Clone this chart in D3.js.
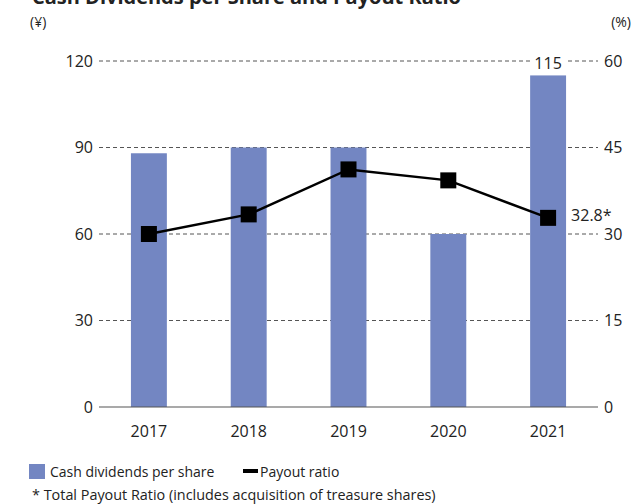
<!DOCTYPE html>
<html>
<head>
<meta charset="utf-8">
<script src="https://cdn.jsdelivr.net/npm/d3@7"></script>
<style>
  body { margin: 0; background: #fff; }
  text { font-family: "Open Sans", "Noto Sans", sans-serif; fill: #222; }
</style>
</head>
<body>
<svg id="chart" width="635" height="504"></svg>
<script>
// Data
var years = ["2017", "2018", "2019", "2020", "2021"];
var dividends = [88, 90, 90, 60, 115];        // yen
var payoutRatio = [30.0, 33.4, 41.2, 39.3, 32.8]; // %
var leftTicks = [0, 30, 60, 90, 120];
var rightTicks = [0, 15, 30, 45, 60];

var svg = d3.select("#chart");

var x0 = 99, x1 = 598, yTop = 61, yBottom = 407;

var xScale = d3.scaleBand().domain(years).range([x0, x1]).paddingInner(0.64).paddingOuter(0.32);
var yLeft = d3.scaleLinear().domain([0, 120]).range([yBottom, yTop]);
var yRight = d3.scaleLinear().domain([0, 60]).range([yBottom, yTop]);

// Title (cut off at top in the reference)
svg.append("text")
    .attr("x", 32).attr("y", 4)
    .style("font-size", "20px").style("font-weight", "bold")
    .text("Cash Dividends per Share and Payout Ratio");

// Unit labels
svg.append("text").attr("x", 30).attr("y", 27).style("font-size", "14px").text("(¥)");
svg.append("text").attr("x", 631).attr("y", 27).attr("text-anchor", "end").style("font-size", "14px").text("(%)");

// Gridlines
svg.append("g").selectAll("line")
    .data(leftTicks.filter(function (d) { return d > 0; }))
    .enter().append("line")
    .attr("x1", x0).attr("x2", x1)
    .attr("y1", function (d) { return yLeft(d); })
    .attr("y2", function (d) { return yLeft(d); })
    .attr("stroke", "#555").attr("stroke-width", 1)
    .attr("stroke-dasharray", "4,3");

// Bars
svg.append("g").selectAll("rect")
    .data(dividends)
    .enter().append("rect")
    .attr("x", function (d, i) { return xScale(years[i]); })
    .attr("width", xScale.bandwidth())
    .attr("y", function (d) { return yLeft(d); })
    .attr("height", function (d) { return yBottom - yLeft(d); })
    .attr("fill", "#7386c2");

// Baseline
svg.append("line")
    .attr("x1", x0).attr("x2", x1)
    .attr("y1", yBottom).attr("y2", yBottom)
    .attr("stroke", "#555").attr("stroke-width", 1.2);

// Left axis labels
var leftAxis = d3.axisLeft(yLeft).tickValues(leftTicks).tickSize(0).tickPadding(6);
var gl = svg.append("g").attr("transform", "translate(" + x0 + ",0)").call(leftAxis);
gl.select(".domain").remove();
gl.selectAll("text").style("font-size", "16px").attr("fill", "#222");

// Right axis labels
var rightAxis = d3.axisRight(yRight).tickValues(rightTicks).tickSize(0).tickPadding(6);
var gr = svg.append("g").attr("transform", "translate(" + x1 + ",0)").call(rightAxis);
gr.select(".domain").remove();
gr.selectAll("text").style("font-size", "16px").attr("fill", "#222");

// Bottom axis labels
var bottomAxis = d3.axisBottom(xScale).tickSize(0).tickPadding(19);
var gb = svg.append("g").attr("transform", "translate(0," + yBottom + ")").call(bottomAxis);
gb.select(".domain").remove();
gb.selectAll("text").style("font-size", "16px").attr("fill", "#222");

// Value label for 2021 bar, with white backing over the gridline
var last = years.length - 1;
var cx = xScale(years[last]) + xScale.bandwidth() / 2;
svg.append("rect")
    .attr("x", cx - 18).attr("y", yLeft(dividends[last]) - 21)
    .attr("width", 36).attr("height", 17).attr("fill", "#fff");
svg.append("text")
    .attr("x", cx).attr("y", yLeft(dividends[last]) - 6)
    .attr("text-anchor", "middle").style("font-size", "16px")
    .text(dividends[last]);

// Payout ratio line
var line = d3.line()
    .x(function (d, i) { return xScale(years[i]) + xScale.bandwidth() / 2; })
    .y(function (d) { return yRight(d); });
svg.append("path")
    .datum(payoutRatio)
    .attr("d", line)
    .attr("fill", "none").attr("stroke", "#000").attr("stroke-width", 2.5);

svg.append("g").selectAll("rect")
    .data(payoutRatio)
    .enter().append("rect")
    .attr("x", function (d, i) { return xScale(years[i]) + xScale.bandwidth() / 2 - 8; })
    .attr("y", function (d) { return yRight(d) - 8; })
    .attr("width", 16).attr("height", 16)
    .attr("fill", "#000");

svg.append("text")
    .attr("x", cx + 23).attr("y", yRight(payoutRatio[last]) + 3)
    .style("font-size", "16px")
    .text(payoutRatio[last].toFixed(1) + "*");

// Legend
svg.append("rect").attr("x", 29).attr("y", 464).attr("width", 16).attr("height", 15).attr("fill", "#7386c2");
svg.append("text").attr("x", 50).attr("y", 477).style("font-size", "14px").text("Cash dividends per share");
svg.append("rect").attr("x", 243).attr("y", 469).attr("width", 15).attr("height", 4).attr("fill", "#000");
svg.append("text").attr("x", 260).attr("y", 477).style("font-size", "14px").text("Payout ratio");

// Footnote
svg.append("text").attr("x", 32).attr("y", 500).style("font-size", "14.4px")
    .text("* Total Payout Ratio (includes acquisition of treasure shares)");
</script>
</body>
</html>
